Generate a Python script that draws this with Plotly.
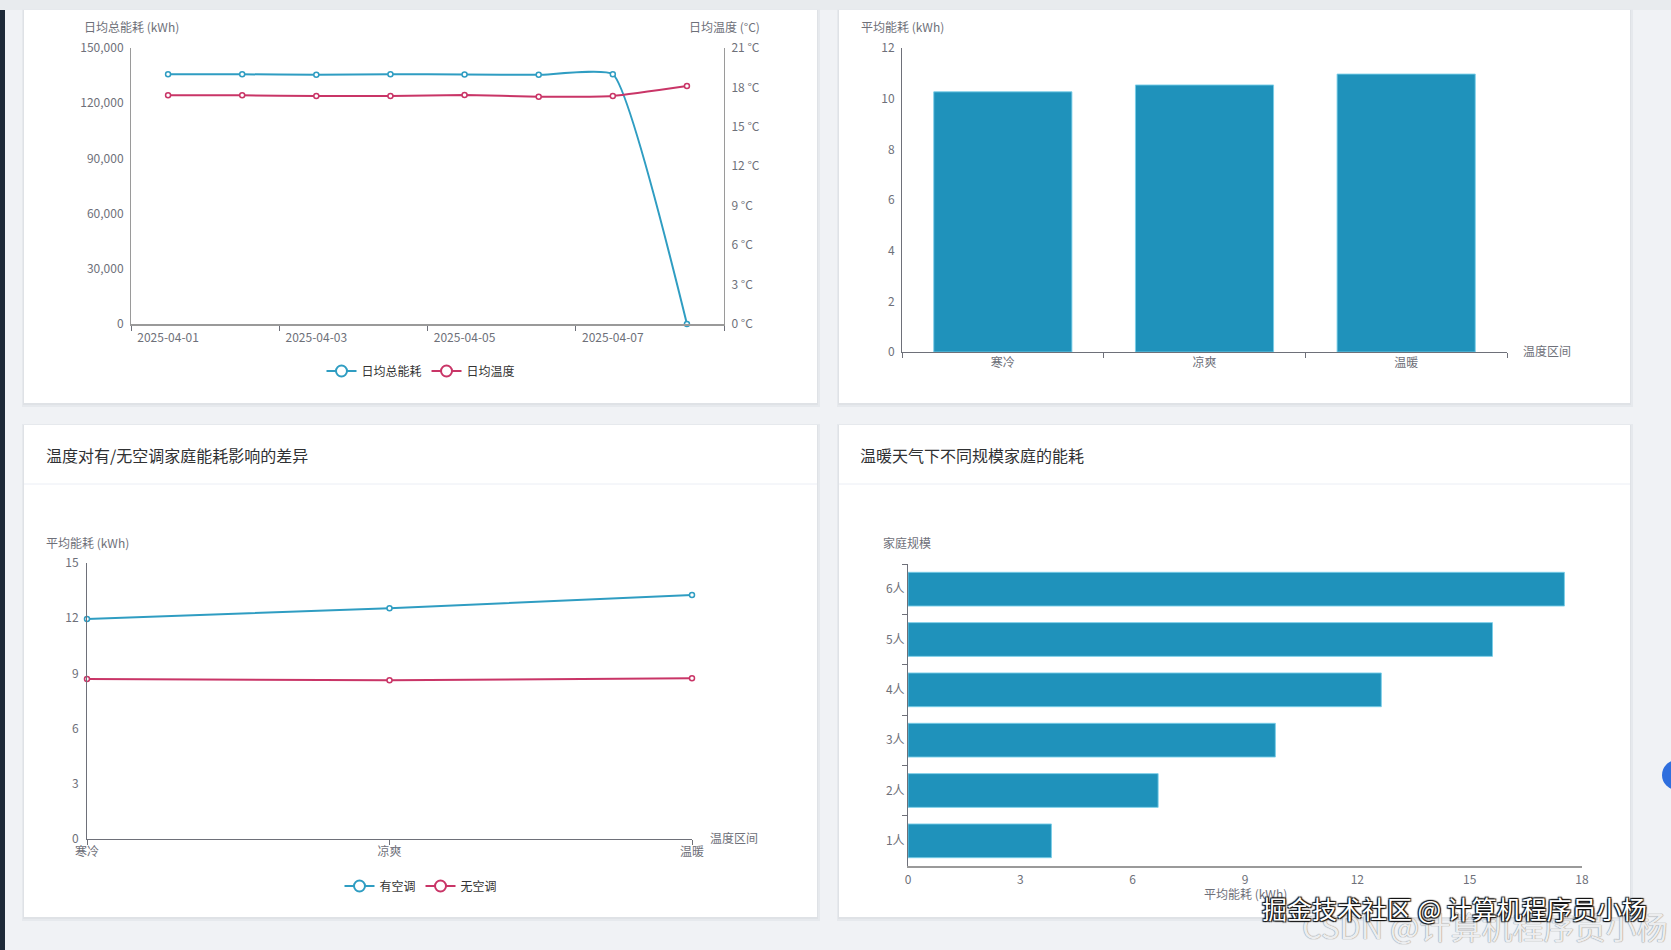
import plotly.graph_objects as go

W, H = 1671, 950


def px(x):
    return x / W


def py(y):
    return 1 - y / H


# ---------------- data ----------------
dates = ["2025-04-01", "2025-04-02", "2025-04-03", "2025-04-04",
         "2025-04-05", "2025-04-06", "2025-04-07", "2025-04-08"]
daily_energy = [135800, 135700, 135500, 135800, 135600, 135400, 135700, 0]
daily_temp = [17.4, 17.4, 17.35, 17.35, 17.42, 17.3, 17.35, 18.1]

zones = ["寒冷", "凉爽", "温暖"]
zone_avg_energy = [10.27, 10.54, 10.97]

ac_yes = [11.96, 12.54, 13.26]
ac_no = [8.69, 8.63, 8.74]

family_sizes = ["1人", "2人", "3人", "4人", "5人", "6人"]
family_energy = [3.83, 6.68, 9.81, 12.64, 15.61, 17.53]

# ---------------- style ----------------
FONT = "Microsoft YaHei, 'Noto Sans CJK SC', 'Noto Sans', sans-serif"
BLUE = "#2f9dc2"
PINK = "#c93567"
BAR = "#1f92bb"
AXC = "#6e7079"
TXT = "#333333"
BG = "#f0f2f5"

date_idx = list(range(len(dates)))

fig = go.Figure()

# chart 1: daily energy / temperature
fig.add_trace(go.Scatter(
    x=date_idx, y=daily_energy, mode="lines+markers", name="日均总能耗",
    line=dict(color=BLUE, width=2, shape="spline", smoothing=0.4),
    marker=dict(size=5, color="white", line=dict(color=BLUE, width=1.5)),
    xaxis="x", yaxis="y", showlegend=False, cliponaxis=False))
fig.add_trace(go.Scatter(
    x=date_idx, y=daily_temp, mode="lines+markers", name="日均温度",
    line=dict(color=PINK, width=2, shape="spline", smoothing=0.5),
    marker=dict(size=5, color="white", line=dict(color=PINK, width=1.5)),
    xaxis="x", yaxis="y2", showlegend=False, cliponaxis=False))
for nm, c in [("日均总能耗", BLUE), ("日均温度", PINK)]:
    fig.add_trace(go.Scatter(
        x=[None], y=[None], mode="lines+markers", name=nm,
        line=dict(color=c, width=2),
        marker=dict(size=11, color="white", line=dict(color=c, width=2)),
        xaxis="x", yaxis="y", legend="legend"))

# chart 2: average energy per temperature zone
fig.add_trace(go.Bar(
    x=zones, y=zone_avg_energy, width=0.685,
    marker=dict(color=BAR, line=dict(color="rgba(120,205,232,0.9)", width=1)),
    xaxis="x2", yaxis="y3", showlegend=False))

# chart 3: with / without AC
fig.add_trace(go.Scatter(
    x=zones, y=ac_yes, mode="lines+markers", name="有空调",
    line=dict(color=BLUE, width=2),
    marker=dict(size=5, color="white", line=dict(color=BLUE, width=1.5)),
    xaxis="x3", yaxis="y4", showlegend=False, cliponaxis=False))
fig.add_trace(go.Scatter(
    x=zones, y=ac_no, mode="lines+markers", name="无空调",
    line=dict(color=PINK, width=2),
    marker=dict(size=5, color="white", line=dict(color=PINK, width=1.5)),
    xaxis="x3", yaxis="y4", showlegend=False, cliponaxis=False))
for nm, c in [("有空调", BLUE), ("无空调", PINK)]:
    fig.add_trace(go.Scatter(
        x=[None], y=[None], mode="lines+markers", name=nm,
        line=dict(color=c, width=2),
        marker=dict(size=11, color="white", line=dict(color=c, width=2)),
        xaxis="x3", yaxis="y4", legend="legend2"))

# chart 4: family size in warm weather
fig.add_trace(go.Bar(
    y=family_sizes, x=family_energy, orientation="h", width=0.67,
    marker=dict(color=BAR, line=dict(color="rgba(120,205,232,0.9)", width=1)),
    xaxis="x4", yaxis="y5", showlegend=False))

tickfont = dict(family=FONT, size=12, color=AXC)
common = dict(showgrid=False, zeroline=False, tickfont=tickfont, fixedrange=True,
              automargin=False)

layout = dict(
    width=W, height=H, autosize=False,
    margin=dict(l=0, r=0, t=0, b=0, pad=0, autoexpand=False),
    paper_bgcolor=BG, plot_bgcolor="rgba(0,0,0,0)",
    font=dict(family=FONT, size=12, color=TXT),
    xaxis=dict(domain=[px(131), px(724)], anchor="y", range=[-0.5, 7.5],
               tickvals=[0, 2, 4, 6], ticktext=[dates[i] for i in [0, 2, 4, 6]],
               ticks="", showline=True, linecolor="#9a9a9a", linewidth=1.5,
               ticklabelstandoff=2,
               minor=dict(tickvals=[-0.5, 1.5, 3.5, 5.5, 7.5], ticks="outside",
                          ticklen=5, tickcolor=AXC, showgrid=False),
               **common),
    yaxis=dict(domain=[py(324), py(48)], anchor="x", range=[0, 150000], dtick=30000,
               tickformat=",", ticks="", showline=True, linecolor="#9a9a9a",
               ticklabelstandoff=4, **common),
    yaxis2=dict(overlaying="y", side="right", anchor="x", range=[0, 21], dtick=3,
                ticksuffix=" °C", ticks="", showline=True, linecolor="#9a9a9a",
                ticklabelstandoff=4, **common),
    xaxis2=dict(domain=[px(902), px(1507)], anchor="y3", type="category",
                range=[-0.5, 2.5], tickson="boundaries", ticks="outside", ticklen=5,
                tickcolor=AXC, showline=True, linecolor=AXC, **common),
    yaxis3=dict(domain=[py(352), py(48)], anchor="x2", range=[0, 12], dtick=2,
                ticks="", showline=True, linecolor=AXC, ticklabelstandoff=4, **common),
    xaxis3=dict(domain=[px(87), px(692)], anchor="y4", type="category",
                range=[0, 2], ticks="outside", ticklen=5, tickcolor=AXC,
                ticklabelstandoff=-3,
                showline=True, linecolor=AXC, **common),
    yaxis4=dict(domain=[py(839), py(563)], anchor="x3", range=[0, 15], dtick=3,
                ticks="", showline=True, linecolor=AXC, ticklabelstandoff=5, **common),
    xaxis4=dict(domain=[px(908), px(1582)], anchor="y5", range=[0, 18], dtick=3,
                ticks="", showline=True, linecolor="#9a9a9a", linewidth=1.5,
                ticklabelstandoff=2, **common),
    yaxis5=dict(domain=[py(866), py(564)], anchor="x4", type="category",
                categoryorder="array", categoryarray=family_sizes,
                range=[-0.5, 5.5], tickson="boundaries", ticks="outside", ticklen=5,
                tickcolor=AXC, showline=True, linecolor=AXC, **common),
    legend=dict(x=px(421), y=py(371), xanchor="center", yanchor="middle",
                orientation="h", bgcolor="rgba(0,0,0,0)",
                font=dict(family=FONT, size=12, color=TXT), itemwidth=30,
                tracegroupgap=0),
    legend2=dict(x=px(421), y=py(886), xanchor="center", yanchor="middle",
                 orientation="h", bgcolor="rgba(0,0,0,0)",
                 font=dict(family=FONT, size=12, color=TXT), itemwidth=30),
)

# ---------------- page decoration (shapes) ----------------
shapes = []


def rect(x0, y0, x1, y1, fill, line=None):
    shapes.append(dict(type="rect", xref="paper", yref="paper", layer="below",
                       x0=px(x0), x1=px(x1), y0=py(y1), y1=py(y0),
                       fillcolor=fill, line=dict(width=0) if line is None else line))


rect(0, 0, W, 10, "#e8ebee")
rect(0, 10, 5, H, "#1e2a38")
panels = [(24, 10, 817, 403), (839, 10, 1630, 403),
          (24, 425, 817, 917), (839, 425, 1630, 917)]
for (x0, y0, x1, y1) in panels:
    rect(x0 - 2, y0 - 1, x1 + 3, y1 + 4, "#e6e9ed")
    rect(x0 - 1, y0, x1 + 1, y1 + 2, "#dfe2e6")
    rect(x0, y0, x1, y1, "#ffffff")
for (x0, x1) in [(24, 817), (839, 1630)]:
    shapes.append(dict(type="line", xref="paper", yref="paper", layer="below",
                       x0=px(x0), x1=px(x1), y0=py(484), y1=py(484),
                       line=dict(color="#ebeef5", width=1)))
shapes.append(dict(type="circle", xref="paper", yref="paper", layer="above",
                   x0=px(1662), x1=px(1692), y0=py(790), y1=py(760),
                   fillcolor="#2f6fde", line=dict(width=0)))
layout["shapes"] = shapes

# ---------------- text annotations ----------------
ann = []


def text(t, x, y, size=12, color=AXC, xanchor="center", **kw):
    ann.append(dict(text=t, x=px(x), y=py(y), xref="paper", yref="paper",
                    showarrow=False, xanchor=xanchor, yanchor="middle",
                    font=dict(family=FONT, size=size, color=color, **kw)))


text("日均总能耗 (kWh)", 131, 27)
text("日均温度 (°C)", 724, 27)
text("平均能耗 (kWh)", 902, 27)
text("温度区间", 1521, 350, xanchor="left")
text("温度对有/无空调家庭能耗影响的差异", 44, 455, size=16, color="#303133", xanchor="left")
text("温暖天气下不同规模家庭的能耗", 858, 455, size=16, color="#303133", xanchor="left")
text("平均能耗 (kWh)", 87, 542)
text("温度区间", 708, 837, xanchor="left")
text("家庭规模", 907, 542)
text("平均能耗 (kWh)", 1245, 893)
text("CSDN @计算机程序员小杨", 1484, 925, size=31, color="rgba(246,247,249,0.92)",
     shadow="0px 0px 1px #8c8c8c, 0px 0px 1px #8c8c8c")
text("掘金技术社区 @ 计算机程序员小杨", 1454, 908, size=25, color="#ffffff",
     shadow="1px 1px 1px #111, -1px -1px 1px #111, 1px -1px 1px #111, -1px 1px 1px #111")
layout["annotations"] = ann

fig.update_layout(**layout)
fig.write_html(
    "out.html",
    config={"responsive": False, "displayModeBar": False},
    post_script=("document.documentElement.style.margin='0';"
                 "document.body.style.margin='0';"
                 "document.body.style.padding='0';"
                 "document.body.style.overflow='hidden';"),
)
